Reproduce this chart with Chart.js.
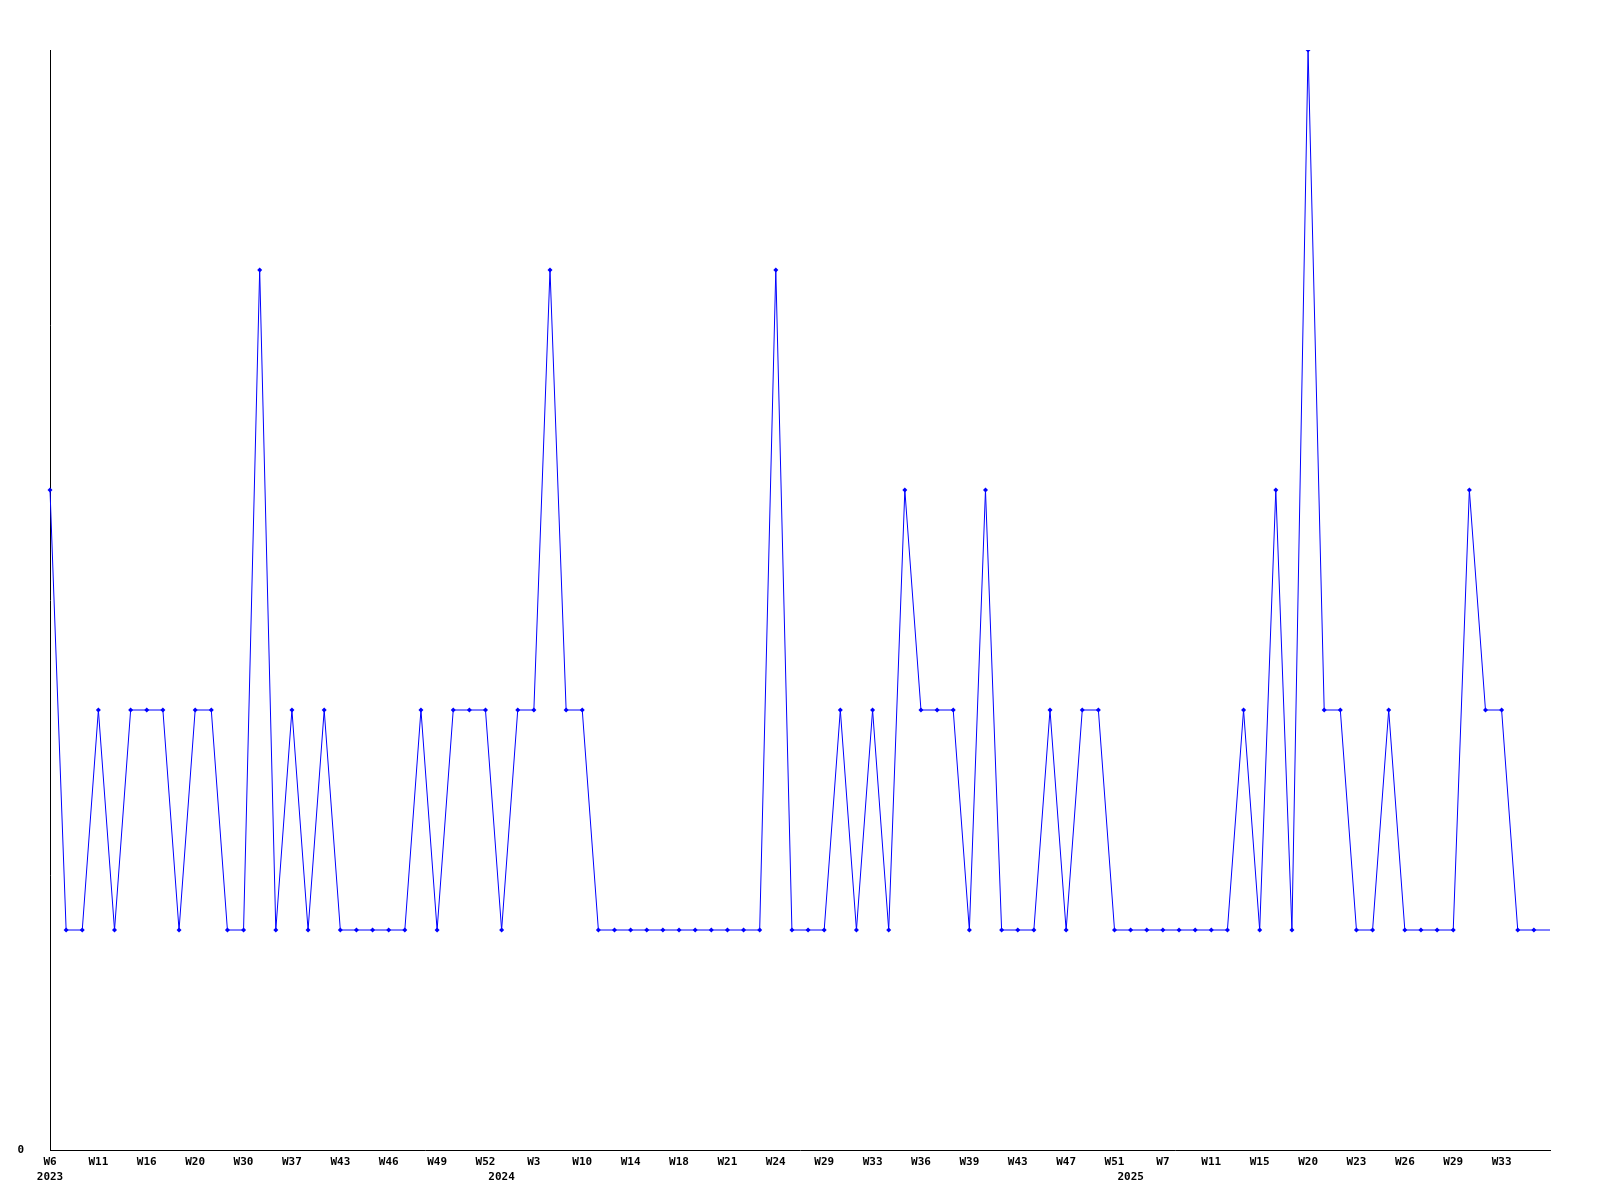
<!DOCTYPE html>
<html>
<head>
<meta charset="utf-8">
<script src="https://cdn.jsdelivr.net/npm/chart.js@4.4.1/dist/chart.umd.min.js"></script>
<style>
  html, body { margin: 0; background: #fff; }
  #wrap { width: 1600px; height: 1200px; }
</style>
</head>
<body>
<div id="wrap"><canvas id="weekly"></canvas></div>
<script>
// week labels (only every 3rd one is printed on the axis)
const weeks = [
    'W6', 'W8', 'W9', 'W11', 'W12', 'W14', 'W16', 'W17', 'W19', 'W20',
    'W23', 'W27', 'W30', 'W31', 'W34', 'W37', 'W39', 'W41', 'W43', 'W44',
    'W45', 'W46', 'W47', 'W48', 'W49', 'W50', 'W51', 'W52', 'W1', 'W2',
    'W3', 'W5', 'W8', 'W10', 'W11', 'W13', 'W14', 'W15', 'W17', 'W18',
    'W19', 'W20', 'W21', 'W22', 'W23', 'W24', 'W26', 'W27', 'W29', 'W30',
    'W32', 'W33', 'W34', 'W35', 'W36', 'W37', 'W38', 'W39', 'W40', 'W42',
    'W43', 'W44', 'W46', 'W47', 'W49', 'W50', 'W51', 'W2', 'W5', 'W7',
    'W8', 'W10', 'W11', 'W12', 'W14', 'W15', 'W17', 'W18', 'W20', 'W21',
    'W22', 'W23', 'W24', 'W25', 'W26', 'W27', 'W28', 'W29', 'W30', 'W32',
    'W33', 'W34', 'W35', 'W36'
];
const yearStarts = { 0: '2023', 28: '2024', 67: '2025' };
const counts = [
    3, 1, 1, 2, 1, 2, 2, 2, 1, 2,
    2, 1, 1, 4, 1, 2, 1, 2, 1, 1,
    1, 1, 1, 2, 1, 2, 2, 2, 1, 2,
    2, 4, 2, 2, 1, 1, 1, 1, 1, 1,
    1, 1, 1, 1, 1, 4, 1, 1, 1, 2,
    1, 2, 1, 3, 2, 2, 2, 1, 3, 1,
    1, 1, 2, 1, 2, 2, 1, 1, 1, 1,
    1, 1, 1, 1, 2, 1, 3, 1, 5, 2,
    2, 1, 1, 2, 1, 1, 1, 1, 3, 2,
    2, 1, 1, 1
];
const yTicks = [0];
const labelEvery = 3;
const lastIdx = counts.length - 1;

const axisFont = { family: '"DejaVu Sans Mono", monospace', size: 11, weight: 'bold', lineHeight: 1.4 };

new Chart(document.getElementById('weekly').getContext('2d'), {
    type: 'line',
    data: {
        labels: weeks,
        datasets: [{
            data: counts,
            borderColor: '#0000ff',
            backgroundColor: '#0000ff',
            borderWidth: 1,
            tension: 0,
            fill: false,
            pointStyle: 'rectRot',
            // the current (unfinished) week has no marker
            pointRadius: c => c.dataIndex === lastIdx ? 0 : 2.5,
            pointBorderWidth: 0,
            pointBackgroundColor: '#0000ff'
        }]
    },
    options: {
        responsive: true,
        maintainAspectRatio: false,
        animation: false,
        layout: { padding: { top: 50, right: 50, left: 0, bottom: 0 } },
        plugins: {
            legend: { display: false },
            tooltip: { enabled: false }
        },
        scales: {
            x: {
                type: 'category',
                offset: false,
                grid: { display: false, drawTicks: false },
                border: { display: true, color: '#000', width: 1 },
                ticks: {
                    autoSkip: false,
                    maxRotation: 0,
                    padding: 4,
                    color: '#000',
                    font: axisFont,
                    callback: function (v, i) {
                        const wk = (i % labelEvery === 0 && i !== lastIdx) ? weeks[i] : '';
                        if (yearStarts[i]) return [wk, yearStarts[i]];
                        return wk;
                    }
                },
                afterFit: s => { s.height = 50; }
            },
            y: {
                min: 0,
                max: 5,
                grid: { display: false, drawTicks: false },
                border: { display: true, color: '#000', width: 1 },
                afterBuildTicks: s => { s.ticks = yTicks.map(v => ({ value: v })); },
                ticks: {
                    padding: 26,
                    color: '#000',
                    font: axisFont
                },
                afterFit: s => { s.width = 50; }
            }
        }
    }
});
</script>
</body>
</html>
